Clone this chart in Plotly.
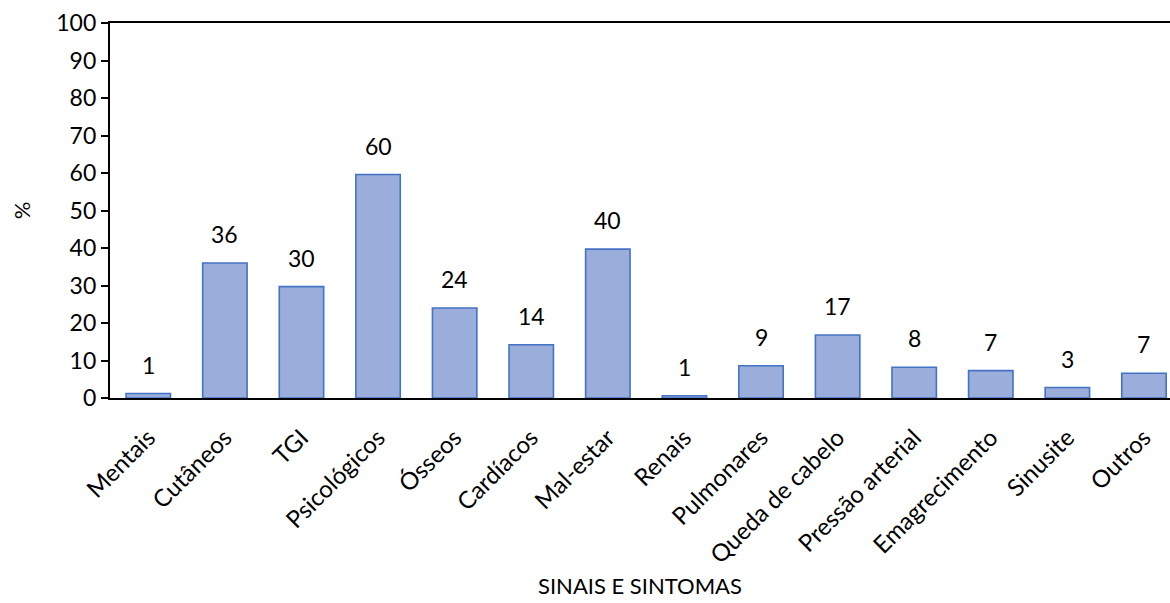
import plotly.graph_objects as go

# Signs and symptoms reported (%)
categories = ["Mentais", "Cutâneos", "TGI", "Psicológicos", "Ósseos", "Cardíacos",
              "Mal-estar", "Renais", "Pulmonares", "Queda de cabelo",
              "Pressão arterial", "Emagrecimento", "Sinusite", "Outros"]
values = [1.2, 36.0, 29.7, 59.6, 24.0, 14.2, 39.7, 0.6, 8.6, 16.8, 8.2, 7.3, 2.8, 6.6]
y_ticks = [0, 10, 20, 30, 40, 50, 60, 70, 80, 90, 100]

FONT = "Lato"
W, H = 1170, 603
L, R, T, B = 110, 0, 23, 205

fig = go.Figure()
fig.add_trace(go.Bar(
    x=list(range(len(categories))),
    y=values,
    width=0.58,
    marker=dict(color="#9badda", line=dict(color="#4472c4", width=1.6)),
    hoverinfo="x+y",
))

# value labels above each bar
for i, v in enumerate(values):
    fig.add_annotation(x=i, y=v, text=f"{round(v)}", showarrow=False,
                       yanchor="bottom", yshift=13,
                       font=dict(family=FONT, size=23, color="#000000"))

fig.add_annotation(x=0.5, y=-0.5, xref="paper", yref="paper",
                   text="SINAIS E SINTOMAS", showarrow=False,
                   xanchor="center", yanchor="middle",
                   font=dict(family=FONT, size=22, color="#000000"))

fig.update_layout(
    width=W, height=H,
    margin=dict(l=L, r=R, t=T, b=B, pad=0),
    paper_bgcolor="white", plot_bgcolor="white",
    showlegend=False,
    font=dict(family=FONT, size=22, color="#000000"),
    xaxis=dict(
        range=[-0.5, 13.34],
        tickmode="array",
        tickvals=list(range(len(categories))),
        ticktext=categories,
        tickangle=-45,
        ticks="", ticklabelstandoff=14,
        showline=True, linecolor="#000000", linewidth=2.2, mirror=True,
        showgrid=False, zeroline=False,
        tickfont=dict(family=FONT, size=24, color="#000000"),
    ),
    yaxis=dict(
        range=[0, 100],
        tickmode="array", tickvals=y_ticks,
        ticks="outside", ticklen=7, tickwidth=2, tickcolor="#000000",
        showline=True, linecolor="#000000", linewidth=2.2,
        showgrid=False, zeroline=False,
        tickfont=dict(family=FONT, size=23, color="#000000"),
        title=dict(text="%", font=dict(family=FONT, size=22, color="#000000"),
                   standoff=20),
    ),
)

fig.write_html("out.html")
